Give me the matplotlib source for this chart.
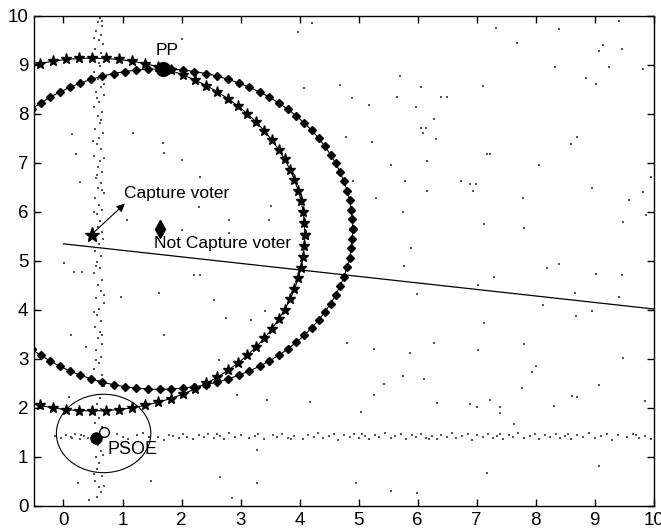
import numpy as np
import matplotlib
matplotlib.use("Agg")
import matplotlib.pyplot as plt
from matplotlib.patches import Circle

plt.rcParams['font.family'] = ['Liberation Sans', 'DejaVu Sans']

# ---------------- data ----------------
x_ticks = list(range(0, 11))
y_ticks = list(range(0, 11))

pp_point = (1.68, 8.92)
capture_voter = (0.49, 5.54)
not_capture_voter = (1.63, 5.65)
psoe_point = (0.55, 1.38)
psoe_ideal = (0.68, 1.50)

# indifference circles: centre (voter) and radius (distance to PP)
star_circle_center = (0.49, 5.54)
star_circle_radius = 3.60
star_circle_n = 100
diamond_circle_center = (1.63, 5.65)
diamond_circle_radius = 3.27
diamond_circle_n = 104

psoe_circle_center = (0.68, 1.48)
psoe_circle_radius = 0.80

line_x = [0.0, 10.0]
line_y = [5.35, 4.02]

# voter cloud: vertical band near x~0.6
vband = [(0.62,9.95),(0.58,9.88),(0.66,9.80),(0.55,9.70),(0.63,9.62),(0.60,9.50),(0.67,9.42),
         (0.53,9.33),(0.64,9.25),(0.57,9.15),(0.62,8.98),(0.51,8.85),(0.66,8.80),(0.59,8.72),
         (0.63,8.55),(0.55,8.45),(0.68,8.38),(0.60,8.25),(0.52,8.15),(0.65,8.05),(0.58,7.95),
         (0.62,7.82),(0.54,7.70),(0.67,7.62),(0.60,7.50),(0.57,7.38),(0.64,7.28),(0.52,7.15),
         (0.62,7.05),(0.59,6.92),(0.66,6.82),(0.55,6.70),(0.63,6.60),(0.58,6.48),(0.68,6.38),
         (0.53,6.28),(0.61,6.15),(0.65,6.05),(0.56,5.95),(0.62,5.82),(0.58,5.70),(0.66,5.60),
         (0.60,5.35),(0.54,5.20),(0.64,5.10),(0.57,4.98),(0.62,4.85),(0.52,4.75),(0.66,4.62),
         (0.59,4.50),(0.63,4.38),(0.55,4.25),(0.68,4.15),(0.60,4.02),(0.57,3.90),(0.64,3.78),
         (0.53,3.65),(0.62,3.55),(0.58,3.42),(0.66,3.30),(0.55,3.18),(0.63,3.05),(0.60,2.92),
         (0.52,2.80),(0.65,2.68),(0.58,2.55),(0.62,2.20),(0.56,2.08),(0.64,1.98),(0.60,1.80),
         (0.54,1.70),(0.66,1.62),(0.58,1.25),(0.63,1.12),(0.55,1.00),(0.61,0.88),(0.57,0.75),
         (0.65,0.62),(0.53,0.50),(0.60,0.38),(0.64,0.28),(0.56,0.18),
         (0.66,9.90),(0.52,9.55),(0.60,9.05),(0.68,8.62),(0.56,8.32),(0.64,7.88),(0.50,7.45),
         (0.68,7.10),(0.57,6.75),(0.65,6.45),(0.52,6.00),(0.67,5.45),(0.55,4.90),(0.68,4.30),
         (0.52,3.95),(0.66,3.48),(0.55,2.98),(0.68,2.45),(0.53,1.90),(0.67,1.05),(0.52,0.65),
         (0.68,0.40)]

# voter cloud: horizontal band near y~1.4
hband = [(-0.15,1.42),(-0.05,1.38),(0.05,1.45),(0.12,1.40),(0.20,1.47),(0.28,1.36),(0.35,1.43),
         (0.42,1.39),(0.90,1.46),(1.00,1.41),(1.10,1.37),(1.25,1.44),(1.35,1.48),(1.60,1.40),
         (1.70,1.35),(1.78,1.45),(1.85,1.42),(1.95,1.38),(2.02,1.47),(2.10,1.41),(2.20,1.36),
         (2.30,1.44),(2.38,1.40),(2.45,1.46),(2.55,1.39),(2.65,1.43),(2.72,1.37),(2.80,1.48),
         (2.90,1.41),(3.00,1.45),(3.15,1.38),(3.25,1.42),(3.30,1.46),(3.40,1.36),(3.55,1.44),
         (3.62,1.40),(3.70,1.47),(3.80,1.39),(3.90,1.43),(4.05,1.37),(4.15,1.45),(4.25,1.41),
         (4.32,1.48),(4.40,1.38),(4.50,1.42),(4.58,1.46),(4.65,1.35),(4.75,1.44),(4.85,1.40),
         (4.92,1.47),(5.00,1.39),(5.10,1.43),(5.18,1.37),(5.28,1.45),(5.35,1.41),(5.45,1.48),
         (5.55,1.38),(5.62,1.42),(5.72,1.46),(5.80,1.36),(5.90,1.44),(5.98,1.40),(6.05,1.47),
         (6.15,1.39),(6.25,1.43),(6.32,1.37),(6.40,1.45),(6.50,1.41),(6.58,1.48),(6.65,1.38),
         (6.75,1.42),(6.85,1.46),(6.92,1.35),(7.00,1.44),(7.10,1.40),(7.20,1.47),(7.28,1.39),
         (7.35,1.43),(7.45,1.37),(7.55,1.45),(7.62,1.41),(7.70,1.48),(7.80,1.38),(7.90,1.42),
         (7.98,1.46),(8.05,1.36),(8.15,1.44),(8.25,1.40),(8.35,1.47),(8.42,1.39),(8.50,1.43),
         (8.60,1.37),(8.70,1.45),(8.80,1.41),(8.90,1.48),(9.00,1.38),(9.10,1.42),(9.20,1.46),
         (9.30,1.35),(9.40,1.44),(9.55,1.40),(9.65,1.47),(9.75,1.39),(9.85,1.43),(9.95,1.37),
         (0.15,1.38),(0.30,1.45),(1.45,1.41),(2.60,1.47),(3.85,1.36),(5.05,1.46),(6.20,1.36),
         (7.40,1.46),(8.55,1.47),(9.70,1.45)]

# voter cloud: scattered points
scatter_pts = [(7.33,9.76),(8.39,9.73),(9.41,9.90),(7.69,9.44),(9.14,9.41),(9.07,9.29),(9.46,9.32),
               (8.32,8.95),(9.24,8.95),(9.82,8.91),(8.85,8.73),(9.02,8.62),(5.70,8.77),(4.68,8.60),
               (6.06,8.56),(7.11,8.57),(4.88,8.33),(5.65,8.35),(6.40,8.35),(6.50,8.35),(5.17,8.18),
               (5.97,8.15),(6.28,7.89),(6.06,7.72),(6.14,7.72),(6.09,7.61),(6.31,7.48),(4.78,7.54),
               (5.23,7.42),(8.70,7.52),(8.59,7.39),(7.18,7.18),(7.22,7.19),(6.16,7.04),(5.55,6.96),
               (8.05,6.96),(4.90,6.63),(5.79,6.63),(6.74,6.63),(6.89,6.58),(6.99,6.58),(6.94,6.43),
               (6.16,6.43),(5.29,6.29),(7.78,6.29),(8.95,6.49),(9.82,6.40),(9.95,6.72),(9.58,6.24),
               (5.75,5.99),(7.13,5.76),(7.81,5.67),(9.48,5.79),(9.87,5.94),(5.89,5.26),(5.77,4.90),
               (8.19,4.85),(8.39,4.94),(7.29,4.68),(9.02,4.73),(9.46,4.71),(5.99,4.33),(7.03,4.50),
               (8.66,4.35),(9.41,4.27),(8.12,4.10),(8.68,3.88),(8.95,3.97),(7.13,3.74),(4.81,3.33),
               (6.28,3.33),(5.26,3.20),(5.87,3.12),(7.03,3.18),(7.81,3.30),(9.48,3.01),(5.75,2.65),
               (6.11,2.60),(5.43,2.48),(7.93,2.74),(8.00,2.86),(7.76,2.40),(9.07,2.46),(5.26,2.27),
               (8.61,2.24),(8.70,2.23),(6.89,2.08),(7.01,2.03),(6.33,2.11),(7.22,2.16),(7.40,2.01),
               (7.40,1.90),(8.31,2.05),(9.86,2.14),(5.04,1.92),(7.64,1.67),(9.07,0.82),(7.17,0.68),
               (4.95,0.46),(5.55,0.30),(5.99,0.27),
               (2.01,9.53),(3.98,9.67),(4.21,9.85),(4.07,8.54),(0.15,7.59),(1.17,7.61),(1.68,7.40),
               (1.70,7.20),(2.01,7.06),(0.21,7.18),(2.32,6.72),(0.28,6.62),(3.51,6.13),(2.80,5.84),
               (1.08,5.84),(2.01,5.63),(2.80,5.57),(2.29,6.11),(3.48,5.84),(0.01,4.95),
               (0.17,4.78),(0.32,4.78),(2.21,4.71),(2.32,4.71),(1.62,4.34),(0.97,4.27),(2.55,4.20),
               (3.42,3.97),(3.17,3.80),(2.75,3.83),(0.12,3.49),(0.38,3.25),(1.70,3.49),(2.63,2.98),
               (0.10,2.23),(2.94,2.27),(4.18,2.13),(3.45,2.16),(3.28,1.14),(2.66,0.60),(3.28,0.46),
               (2.86,0.16),(1.48,0.50),(0.24,0.46),(0.43,0.12)]

# ---------------- figure ----------------
fig = plt.figure(figsize=(6.61, 5.32), dpi=100)
ax = fig.add_axes([0.0514, 0.0489, 0.9376, 0.9211])

cloud = vband + hband + scatter_pts
cx = [p[0] for p in cloud]
cy = [p[1] for p in cloud]
ax.scatter(cx, cy, s=1.1, marker='s', c='#555555', linewidths=0, zorder=1)

# star circle (capture voter)
t = np.linspace(0, 2 * np.pi, star_circle_n, endpoint=False)
sx = star_circle_center[0] + star_circle_radius * np.cos(t)
sy = star_circle_center[1] + star_circle_radius * np.sin(t)
ax.plot(np.append(sx, sx[0]), np.append(sy, sy[0]), '-', color='black', lw=0.8,
        marker='*', markersize=8, zorder=3)

# diamond circle (not-capture voter)
t2 = np.linspace(0, 2 * np.pi, diamond_circle_n, endpoint=False)
dx = diamond_circle_center[0] + diamond_circle_radius * np.cos(t2)
dy = diamond_circle_center[1] + diamond_circle_radius * np.sin(t2)
ax.plot(np.append(dx, dx[0]), np.append(dy, dy[0]), '-', color='black', lw=0.8,
        marker='D', markersize=3.8, zorder=3)

# straight line
ax.plot(line_x, line_y, '-', color='black', lw=0.9, zorder=2)

# PSOE circle
ax.add_patch(Circle(psoe_circle_center, psoe_circle_radius, fill=False,
                    edgecolor='black', lw=0.8, zorder=2))

# key points
ax.plot(*pp_point, 'o', color='black', markersize=10, zorder=5)
ax.plot(*capture_voter, '*', color='black', markersize=11, zorder=5)
ax.plot(*not_capture_voter, 'd', color='black', markersize=9, zorder=5)
ax.plot(*psoe_point, 'o', color='black', markersize=8, zorder=5)
ax.plot(*psoe_ideal, 'o', markerfacecolor='white', markeredgecolor='black',
        markersize=7, markeredgewidth=1.0, zorder=6)

# annotations
ax.text(1.56, 9.15, 'PP', fontsize=12.5, ha='left', va='bottom', zorder=7)
ax.text(1.02, 6.22, 'Capture voter', fontsize=12.5, ha='left', va='bottom', zorder=7)
ax.annotate('', xy=(1.04, 6.17), xytext=(capture_voter[0] + 0.03, capture_voter[1] + 0.05),
            arrowprops=dict(arrowstyle='-|>', color='black', lw=0.8,
                            mutation_scale=12, shrinkA=0, shrinkB=0), zorder=7)
ax.text(1.54, 5.36, 'Not Capture voter', fontsize=12.5, ha='left', va='center', zorder=7)
ax.text(0.74, 0.98, 'PSOE', fontsize=13, ha='left', va='bottom', zorder=7)

# axes styling (MATLAB-like box with inward ticks)
ax.set_xlim(-0.5, 10)
ax.set_ylim(0, 10)
ax.set_xticks(x_ticks)
ax.set_yticks(y_ticks)
ax.tick_params(direction='in', top=True, right=True, length=5, width=1, pad=4)
for lab in ax.get_xticklabels() + ax.get_yticklabels():
    lab.set_fontsize(13.5)
    lab.set_family(['Liberation Sans Narrow', 'Liberation Sans', 'DejaVu Sans'])
for sp in ax.spines.values():
    sp.set_linewidth(1.0)

fig.savefig('out.png', dpi=100)
